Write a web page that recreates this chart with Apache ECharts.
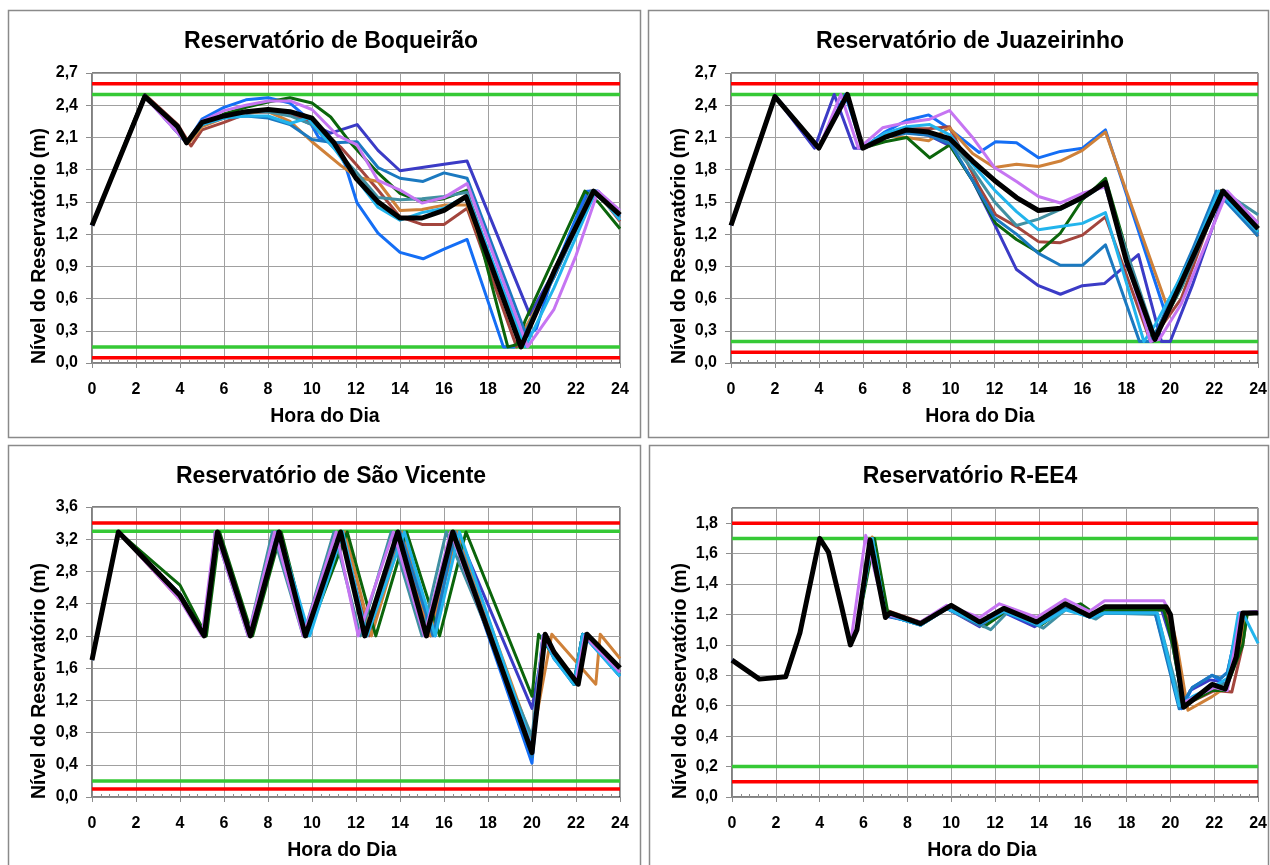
<!DOCTYPE html>
<html>
<head>
<meta charset="utf-8">
<script src="https://cdn.jsdelivr.net/npm/echarts@6/dist/echarts.min.js"></script>
<style>
  html, body { margin: 0; padding: 0; background: #ffffff; }
  #chart { width: 1270px; height: 865px; }
</style>
</head>
<body>
<div id="chart"></div>
<script>
// ---------- Reservoir levels (m) by hour of day: [hour, level] ----------

// Reservatório de Boqueirão
const boqIndigo = [[0,1.28],[2.4,2.49],[3.9,2.2],[4.3,2.05],[5,2.24],[6,2.3],[7,2.33],[8,2.34],[9,2.31],[10,2.22],[10.85,2.14],[12.05,2.22],[13,1.98],[14,1.79],[15,1.82],[16,1.85],[17.05,1.88],[19.9,0.45],[21,0.85],[22.6,1.6],[23,1.6],[24,1.38]];
const boqBlue   = [[0,1.28],[2.4,2.49],[4.3,2.05],[5,2.27],[6,2.38],[7,2.45],[8,2.47],[9,2.42],[9.8,2.28],[10.3,2.1],[11,2.05],[11.5,1.85],[12.05,1.49],[13,1.21],[14,1.03],[15.05,0.97],[16,1.06],[17.05,1.15],[18.7,0.15],[19.2,0.15],[20.2,0.32],[21,0.85],[22.5,1.6],[23,1.6],[24,1.35]];
const boqBrown  = [[0,1.28],[2.4,2.5],[3.9,2.22],[4.5,2.02],[5,2.17],[6,2.24],[7,2.32],[8,2.35],[9,2.33],[10,2.25],[11.3,2.01],[12,1.85],[13,1.61],[14,1.36],[15,1.29],[16,1.29],[17.05,1.44],[19.3,0.15],[21,0.8],[22.7,1.6],[23,1.58],[24,1.32]];
const boqOrange = [[0,1.28],[2.4,2.49],[4.4,2.05],[5,2.2],[6,2.28],[7,2.33],[8,2.34],[9,2.25],[10,2.06],[11.3,1.84],[12.05,1.73],[13,1.69],[14,1.42],[15,1.43],[16,1.47],[17.05,1.47],[19.4,0.22],[21,0.8],[22.8,1.6],[24,1.35]];
const boqGreen  = [[0,1.28],[2.4,2.5],[4.3,2.05],[5,2.22],[6,2.32],[7,2.38],[8,2.43],[9,2.47],[10,2.42],[10.85,2.29],[11.75,2.05],[13,1.77],[14,1.58],[15,1.5],[16,1.53],[17.05,1.61],[18.9,0.15],[19.3,0.17],[19.7,0.4],[22.4,1.6],[23,1.5],[24,1.25]];
const boqTeal   = [[0,1.28],[2.4,2.49],[4.3,2.05],[5,2.23],[6,2.3],[7,2.34],[8,2.34],[9,2.3],[10,2.22],[11,2.0],[12,1.78],[13,1.54],[14,1.52],[15,1.53],[16,1.55],[17.05,1.59],[19.5,0.2],[21,0.85],[22.7,1.6],[24,1.38]];
const boqSteel  = [[0,1.28],[2.4,2.49],[4.3,2.05],[5,2.22],[6,2.28],[7,2.3],[8,2.28],[9,2.22],[10,2.08],[11,2.05],[12.05,2.06],[13,1.82],[14,1.72],[15.05,1.69],[16,1.77],[17.05,1.72],[19.7,0.28],[21,0.8],[22.8,1.6],[24,1.36]];
const boqSky    = [[0,1.28],[2.4,2.49],[4.3,2.05],[5,2.22],[6,2.28],[7,2.3],[8,2.3],[9,2.23],[9.8,2.28],[11,2.0],[12,1.72],[13,1.45],[14,1.33],[15,1.4],[16,1.44],[17.05,1.56],[19.7,0.15],[21,0.7],[22.9,1.6],[24,1.33]];
const boqViolet = [[0,1.28],[2.4,2.48],[4.3,2.05],[5,2.25],[6,2.35],[7,2.4],[8,2.44],[9,2.44],[10,2.36],[11.15,2.12],[12.05,2.03],[13,1.7],[14,1.61],[15,1.49],[16,1.54],[17.05,1.67],[19.8,0.15],[21,0.5],[22,1.0],[23,1.6],[24,1.42]];
const boqMean   = [[0,1.28],[2.4,2.48],[3.9,2.2],[4.3,2.05],[5,2.24],[6,2.3],[7,2.34],[8,2.36],[9,2.34],[10,2.28],[11,2.05],[12,1.72],[13,1.5],[14,1.35],[15,1.35],[16,1.42],[17,1.55],[19.5,0.15],[21,0.85],[22.8,1.6],[24,1.38]];
const boqRedLimits   = [2.6, 0.05];
const boqGreenLimits = [2.5, 0.15];

// Reservatório de Juazeirinho
const juaIndigo = [[0,1.28],[2,2.48],[3.8,2.0],[4.7,2.5],[5.6,2.0],[6,2.0],[7,2.1],[8,2.15],[9,2.12],[10,2.02],[11,1.7],[12.05,1.27],[13,0.87],[14,0.72],[15,0.64],[16,0.72],[17,0.74],[18.55,1.01],[19.6,0.2],[20,0.2],[21,0.72],[22.5,1.6],[24,1.3]];
const juaBlue   = [[0,1.28],[2,2.49],[4,2.0],[5.2,2.5],[6,2.0],[7,2.15],[8,2.26],[9,2.31],[9.95,2.18],[11.3,1.96],[12.05,2.06],[13,2.05],[14,1.91],[15,1.97],[16,2.0],[17.05,2.17],[19.8,0.45],[21,1.0],[22.3,1.6],[24,1.2]];
const juaBrown  = [[0,1.28],[2,2.48],[4,2.0],[5.3,2.5],[6,2.0],[7,2.12],[8,2.18],[9,2.18],[9.95,2.2],[11.3,1.64],[12.05,1.38],[13,1.27],[14,1.13],[15,1.12],[16,1.19],[17.05,1.36],[19.1,0.2],[20.5,0.6],[22.3,1.6],[24,1.18]];
const juaOrange = [[0,1.28],[2,2.48],[4,2.0],[5.3,2.5],[6,2.0],[7,2.12],[8,2.1],[9,2.07],[9.95,2.19],[11,1.95],[12,1.82],[13,1.85],[14,1.83],[15,1.88],[16,1.98],[17.05,2.15],[19.9,0.5],[21,0.95],[22.3,1.6],[24,1.18]];
const juaGreen  = [[0,1.28],[2,2.48],[4,2.0],[5.3,2.5],[6,2.0],[7,2.06],[8,2.1],[9.05,1.91],[9.95,2.03],[11,1.7],[12.05,1.3],[13,1.15],[14,1.03],[15,1.21],[16,1.52],[17.05,1.72],[19.2,0.2],[20.5,0.7],[22.3,1.6],[24,1.22]];
const juaTeal   = [[0,1.28],[2,2.48],[4,2.0],[5.3,2.5],[6,2.0],[7,2.1],[8,2.15],[9,2.14],[10,2.06],[11,1.8],[12,1.5],[13,1.28],[14,1.34],[15,1.43],[16,1.53],[17,1.66],[19.3,0.25],[20.5,0.7],[22.4,1.6],[24,1.38]];
const juaSteel  = [[0,1.28],[2,2.48],[4,2.0],[5.3,2.5],[6,2.0],[7,2.1],[8,2.14],[9,2.12],[10,2.04],[11,1.7],[12,1.35],[13,1.2],[14,1.02],[15,0.91],[16,0.91],[17.05,1.1],[18.6,0.2],[19.1,0.2],[19.5,0.35],[21,1.05],[22.1,1.6],[24,1.18]];
const juaSky    = [[0,1.28],[2,2.48],[4,2.0],[5.3,2.5],[6,2.0],[7,2.14],[8,2.2],[9.05,2.22],[10,2.12],[11,1.85],[12,1.61],[13,1.41],[14,1.24],[15,1.27],[16,1.3],[17.05,1.4],[18.8,0.2],[19.3,0.35],[21,1.0],[22.2,1.6],[24,1.22]];
const juaViolet = [[0,1.28],[2,2.48],[4,2.0],[5,2.5],[5.8,2.0],[6,2.03],[6.9,2.19],[8,2.24],[9.05,2.27],[9.95,2.35],[11,2.1],[12,1.82],[13,1.69],[14,1.55],[15,1.49],[16,1.58],[17.05,1.64],[19.1,0.2],[19.5,0.22],[20.5,0.55],[22.6,1.6],[24,1.3]];
const juaMean   = [[0,1.28],[2,2.48],[4,2.0],[5.3,2.5],[6,2.0],[7,2.1],[8,2.17],[9,2.15],[9.95,2.09],[11,1.88],[12,1.7],[13,1.54],[14,1.42],[15,1.44],[16,1.54],[17.05,1.68],[18,0.95],[19.3,0.22],[20.5,0.75],[22.4,1.6],[24,1.25]];
const juaRedLimits   = [2.6, 0.1];
const juaGreenLimits = [2.5, 0.2];

// Reservatório de São Vicente
const svIndigo = [[0,1.7],[1.2,3.29],[4,2.5],[5.1,2.0],[5.7,3.29],[7.2,2.0],[8.5,3.29],[9.7,2.0],[11.4,3.29],[12.5,2.0],[14.0,3.29],[15.4,2.0],[16.6,3.29],[20,1.1],[20.6,2.0],[21,1.75],[21.9,1.4],[22.3,2.02],[24,1.55]];
const svBlue   = [[0,1.7],[1.2,3.29],[4,2.52],[5.1,2.0],[5.7,3.29],[7.2,2.0],[8.5,3.29],[9.7,2.0],[11.3,3.29],[12.4,2.0],[14.1,3.29],[15.6,2.0],[16.4,3.29],[20,0.42],[20.5,2.0],[21,1.72],[21.9,1.4],[22.3,2.02],[24,1.5]];
const svBrown  = [[0,1.7],[1.2,3.29],[4,2.45],[5.1,2.0],[5.7,3.29],[7.2,2.0],[8.5,3.29],[9.7,2.0],[11.3,3.29],[12.6,2.0],[14.0,3.29],[15.3,2.0],[16.5,3.29],[20,0.65],[20.6,2.02],[21,1.78],[22,1.42],[22.4,2.02],[24,1.55]];
const svOrange = [[0,1.7],[1.2,3.29],[4,2.48],[5.1,2.0],[5.7,3.29],[7.2,2.0],[8.5,3.29],[9.8,2.0],[11.5,3.29],[12.7,2.0],[14.1,3.29],[15.4,2.0],[16.6,3.29],[20,0.7],[20.9,2.02],[22.9,1.4],[23.1,2.02],[24,1.72]];
const svGreen  = [[0,1.7],[1.2,3.29],[4,2.63],[5.2,2.0],[5.8,3.29],[7.3,2.0],[8.6,3.29],[9.8,2.0],[11.6,3.29],[12.9,2.0],[14.3,3.29],[15.8,2.0],[17,3.29],[20,1.25],[20.3,2.02],[21,1.75],[21.9,1.4],[22.3,2.02],[24,1.55]];
const svTeal   = [[0,1.7],[1.2,3.29],[4,2.5],[5.1,2.0],[5.6,3.29],[7.1,2.0],[8.2,3.29],[9.6,2.0],[11.0,3.29],[12.2,2.0],[13.6,3.29],[15.0,2.0],[16.1,3.29],[20,0.75],[20.5,2.0],[21,1.75],[22,1.4],[22.4,2.0],[24,1.52]];
const svSteel  = [[0,1.7],[1.2,3.29],[4,2.5],[5.1,2.0],[5.7,3.29],[7.2,2.0],[8.4,3.29],[9.8,2.0],[11.3,3.29],[12.4,2.0],[14.0,3.29],[15.5,2.0],[16.5,3.29],[20,0.5],[20.5,2.0],[21,1.72],[22,1.4],[22.4,2.02],[24,1.5]];
const svSky    = [[0,1.7],[1.2,3.29],[4,2.5],[5.1,2.0],[5.7,3.29],[7.2,2.0],[8.5,3.29],[9.9,2.0],[11.4,3.29],[12.5,2.0],[14.2,3.29],[15.6,2.0],[16.7,3.29],[20,0.62],[20.5,2.0],[21,1.72],[21.9,1.4],[22.3,2.02],[24,1.5]];
const svViolet = [[0,1.7],[1.2,3.29],[4,2.45],[5.0,2.0],[5.6,3.29],[7.1,2.0],[8.3,3.29],[9.6,2.0],[11.1,3.29],[12.1,2.0],[13.7,3.29],[15.1,2.0],[16.3,3.29],[20,0.6],[20.5,2.0],[21,1.78],[22,1.45],[22.4,2.0],[24,1.55]];
const svMean   = [[0,1.7],[1.2,3.29],[4,2.5],[5.1,2.0],[5.7,3.29],[7.2,2.0],[8.5,3.29],[9.7,2.0],[11.3,3.29],[12.4,2.0],[13.9,3.29],[15.2,2.0],[16.4,3.29],[20,0.55],[20.6,2.02],[21,1.8],[22.1,1.4],[22.5,2.02],[24,1.6]];
const svRedLimits   = [3.4, 0.1];
const svGreenLimits = [3.3, 0.2];

// Reservatório R-EE4
const reIndigo = [[0,0.9],[1.25,0.775],[2.45,0.79],[3.1,1.08],[4,1.7],[4.4,1.61],[5,1.25],[5.4,1.0],[5.7,1.1],[6.3,1.69],[7,1.19],[8.6,1.14],[9.8,1.24],[11.3,1.12],[12.3,1.22],[13.8,1.12],[15.2,1.24],[16.4,1.18],[17,1.23],[19.6,1.23],[20.1,1.0],[20.6,0.6],[20.9,0.7],[21.8,0.77],[22.3,0.76],[22.6,0.73],[23.1,1.0],[23.3,1.21],[24,1.22]];
const reBlue   = [[0,0.9],[1.25,0.775],[2.45,0.79],[3.1,1.08],[4,1.7],[4.4,1.61],[5,1.25],[5.4,1.0],[5.7,1.1],[6.4,1.7],[7,1.2],[8.6,1.13],[9.8,1.25],[11.3,1.13],[12.3,1.22],[13.9,1.13],[15.2,1.25],[16.5,1.18],[17,1.22],[19.3,1.21],[20.5,0.58],[21,0.72],[21.9,0.8],[22.2,0.77],[22.6,0.82],[23.2,1.21],[24,1.21]];
const reBrown  = [[0,0.9],[1.25,0.775],[2.45,0.79],[3.1,1.08],[4,1.7],[4.4,1.61],[5,1.25],[5.4,1.0],[5.7,1.1],[6.3,1.7],[7,1.23],[8.6,1.15],[9.8,1.25],[11.3,1.15],[12.4,1.23],[13.9,1.15],[15.2,1.26],[16.4,1.2],[17,1.24],[19.8,1.24],[20.2,1.0],[20.7,0.6],[21,0.63],[22,0.7],[22.8,0.69],[23.3,1.0],[23.5,1.21],[24,1.21]];
const reOrange = [[0,0.9],[1.25,0.775],[2.45,0.79],[3.1,1.08],[4,1.7],[4.4,1.61],[5,1.25],[5.4,1.0],[5.7,1.1],[6.4,1.71],[7,1.22],[8.6,1.13],[9.8,1.24],[11.3,1.13],[12.6,1.24],[13.9,1.14],[15.2,1.25],[16.4,1.19],[17,1.24],[19.9,1.24],[20.3,1.0],[20.8,0.57],[21.9,0.66],[22.5,0.72],[23.2,1.0],[23.4,1.21],[24,1.21]];
const reGreen  = [[0,0.9],[1.25,0.775],[2.45,0.79],[3.1,1.08],[4,1.7],[4.4,1.61],[5,1.25],[5.4,1.0],[5.7,1.1],[6.5,1.7],[7.1,1.22],[8.6,1.14],[9.8,1.25],[11.5,1.12],[12.6,1.23],[14.1,1.13],[15.2,1.24],[15.9,1.27],[16.6,1.2],[17,1.23],[19.7,1.23],[20.1,1.0],[20.6,0.6],[21.9,0.7],[22.5,0.7],[23.3,1.0],[23.5,1.2],[24,1.21]];
const reTeal   = [[0,0.9],[1.25,0.775],[2.45,0.79],[3.1,1.08],[4,1.7],[4.4,1.61],[5,1.25],[5.4,1.0],[5.7,1.1],[6.4,1.7],[7,1.2],[8.6,1.13],[9.8,1.24],[11.8,1.1],[12.6,1.22],[14.2,1.11],[15.3,1.24],[16.6,1.17],[17,1.21],[19.4,1.2],[20.5,0.6],[21.9,0.72],[22.6,0.75],[23.2,1.21],[24,1.21]];
const reSteel  = [[0,0.9],[1.25,0.775],[2.45,0.79],[3.1,1.08],[4,1.7],[4.4,1.61],[5,1.25],[5.4,1.0],[5.7,1.1],[6.4,1.7],[7,1.2],[8.6,1.13],[9.8,1.24],[11.3,1.13],[12.4,1.22],[13.9,1.13],[15.2,1.24],[16.4,1.18],[17,1.21],[19.3,1.21],[20.4,0.58],[21,0.72],[21.9,0.8],[22.3,0.78],[22.6,0.82],[23.2,1.21],[24,1.21]];
const reSky    = [[0,0.9],[1.25,0.775],[2.45,0.79],[3.1,1.08],[4,1.7],[4.4,1.61],[5,1.25],[5.4,1.0],[5.7,1.1],[6.4,1.7],[7,1.2],[8.6,1.13],[9.8,1.24],[11.3,1.14],[12.4,1.22],[14,1.13],[15.2,1.23],[16.4,1.18],[17,1.21],[19.4,1.21],[20.4,0.6],[21,0.66],[22,0.73],[22.6,0.78],[23.1,1.21],[23.3,1.21],[24,1.01]];
const reViolet = [[0,0.9],[1.25,0.775],[2.45,0.79],[3.1,1.08],[4,1.7],[4.4,1.61],[5,1.25],[5.4,1.0],[6.1,1.72],[7,1.2],[8.6,1.15],[9.8,1.26],[11.3,1.18],[12.2,1.27],[13.9,1.18],[15.2,1.3],[16.3,1.22],[17,1.29],[19.7,1.29],[20,1.2],[20.6,0.62],[22,0.72],[22.6,0.7],[23.2,1.21],[24,1.22]];
const reMean   = [[0,0.9],[1.25,0.775],[2.45,0.79],[3.1,1.08],[4,1.7],[4.4,1.61],[5,1.25],[5.4,1.0],[5.7,1.1],[6.3,1.69],[7,1.18],[7.2,1.21],[8.6,1.14],[10,1.26],[11.3,1.15],[12.4,1.24],[13.9,1.15],[15.2,1.27],[16.3,1.19],[17,1.25],[19.8,1.25],[20,1.2],[20.6,0.59],[21.9,0.74],[22.5,0.71],[23,0.92],[23.3,1.21],[24,1.21]];
const reRedLimits   = [1.8, 0.1];
const reGreenLimits = [1.7, 0.2];

// ---------- Panel text ----------
const panelTitles = ['Reservatório de Boqueirão', 'Reservatório de Juazeirinho', 'Reservatório de São Vicente', 'Reservatório R-EE4'];
const xAxisTitle = 'Hora do Dia';
const yAxisTitle = 'Nível do Reservatório (m)';
const hourTicks = [0, 24, 2];            // min, max, step
const levelScales = [[0, 2.7, 0.3], [0, 2.7, 0.3], [0, 3.6, 0.4], [0, 1.9, 0.2]];

// ---------- Styling ----------
const lineColors = ['#3b3bc6', '#146ef5', '#a3453d', '#cf8139', '#0b650b', '#4190a2', '#1b79c0', '#22b4ec', '#c675f2'];
const meanColor = '#000000';
const redColor = '#ff0000';
const greenColor = '#36c936';
const gridColor = '#a0a0a0';
const FONT = '"Liberation Sans", Arial, Helvetica, sans-serif';

const panels = [
  { series: [boqIndigo, boqBlue, boqBrown, boqOrange, boqGreen, boqTeal, boqSteel, boqSky, boqViolet], mean: boqMean, red: boqRedLimits, green: boqGreenLimits },
  { series: [juaIndigo, juaBlue, juaBrown, juaOrange, juaGreen, juaTeal, juaSteel, juaSky, juaViolet], mean: juaMean, red: juaRedLimits, green: juaGreenLimits },
  { series: [svIndigo, svBlue, svBrown, svOrange, svGreen, svTeal, svSteel, svSky, svViolet], mean: svMean, red: svRedLimits, green: svGreenLimits },
  { series: [reIndigo, reBlue, reBrown, reOrange, reGreen, reTeal, reSteel, reSky, reViolet], mean: reMean, red: reRedLimits, green: reGreenLimits }
];

// Layout of the four panels (pixels)
const grids = [
  { left: 92,  top: 73,  width: 528, height: 290 },
  { left: 731, top: 73,  width: 529, height: 290 },
  { left: 92,  top: 507, width: 528, height: 290 },
  { left: 732, top: 508, width: 528, height: 289 }
];
const frames = [[8, 10, 632, 427], [648, 10, 620, 427], [8, 445, 632, 430], [649, 445, 619, 430]];
const titlePos = [[326, 37], [965, 37], [326, 472], [965, 472]];
const xNamePos = [[325, 417], [980, 417], [342, 851], [982, 851]];
const yNamePos = [[40, 246], [680, 246], [40, 681], [681, 681]];

const comma = v => String(Math.round(v * 10) / 10).replace('.', ',').replace(/^(\d+)$/, '$1,0');

const option = {
  backgroundColor: '#ffffff',
  animation: false,
  title: panelTitles.map((t, i) => ({
    text: t, left: titlePos[i][0], top: titlePos[i][1],
    textAlign: 'center', textVerticalAlign: 'middle',
    textStyle: { fontFamily: FONT, fontWeight: 'bold', fontSize: 23, color: '#000' }
  })),
  grid: grids.map(g => Object.assign({ show: true, borderColor: '#000', borderWidth: 1, backgroundColor: 'transparent' }, g)),
  xAxis: grids.map((g, i) => ({
    type: 'value', gridIndex: i, min: hourTicks[0], max: hourTicks[1], interval: hourTicks[2],
    axisLine: { show: true, lineStyle: { color: '#8c8c8c', width: 1 } },
    axisTick: { show: true, length: 5, lineStyle: { color: '#8c8c8c' } },
    minorTick: { show: true, splitNumber: 5, length: -3, lineStyle: { color: '#8c8c8c' } },
    splitLine: { show: true, lineStyle: { color: gridColor, width: 1 } },
    axisLabel: { margin: 19, fontFamily: FONT, fontWeight: 'bold', fontSize: 16, color: '#000' }
  })),
  yAxis: grids.map((g, i) => ({
    type: 'value', gridIndex: i, min: levelScales[i][0], max: levelScales[i][1], interval: levelScales[i][2],
    axisLine: { show: true, lineStyle: { color: '#8c8c8c', width: 1 } },
    axisTick: { show: true, length: 6, lineStyle: { color: '#8c8c8c' } },
    splitLine: { show: true, lineStyle: { color: gridColor, width: 1 } },
    axisLabel: {
      margin: 14, fontFamily: FONT, fontWeight: 'bold', fontSize: 16, color: '#000',
      showMaxLabel: i === 3 ? false : true,
      formatter: comma
    }
  })),
  graphic: [].concat(
    frames.map(f => ({
      type: 'rect', silent: true, z: -10,
      shape: { x: f[0] + 0.5, y: f[1] + 0.5, width: f[2], height: f[3] },
      style: { fill: 'none', stroke: '#8a8a8a', lineWidth: 1.5 }
    })),
    xNamePos.map(p => ({
      type: 'text', x: p[0], y: p[1], silent: true,
      style: { text: xAxisTitle, fontFamily: FONT, fontWeight: 'bold', fontSize: 19.5, fill: '#000', textAlign: 'center', textVerticalAlign: 'middle' }
    })),
    yNamePos.map(p => ({
      type: 'text', x: p[0], y: p[1], rotation: Math.PI / 2, silent: true,
      style: { text: yAxisTitle, fontFamily: FONT, fontWeight: 'bold', fontSize: 19.5, fill: '#000', textAlign: 'center', textVerticalAlign: 'middle' }
    }))
  ),
  series: []
};

panels.forEach((p, i) => {
  // limit lines (upper / lower)
  p.red.concat(p.green).forEach((lvl, k) => {
    option.series.push({
      type: 'line', xAxisIndex: i, yAxisIndex: i, z: 1,
      data: [[hourTicks[0], lvl], [hourTicks[1], lvl]],
      showSymbol: false, silent: true,
      lineStyle: { color: k < p.red.length ? redColor : greenColor, width: 3.5 }
    });
  });
  // simulated level curves
  p.series.forEach((d, k) => {
    option.series.push({
      type: 'line', xAxisIndex: i, yAxisIndex: i, z: 2,
      data: d, showSymbol: false, silent: true,
      lineStyle: { color: lineColors[k], width: 3, join: 'round' }
    });
  });
  // mean curve
  option.series.push({
    type: 'line', xAxisIndex: i, yAxisIndex: i, z: 3,
    data: p.mean, showSymbol: false, silent: true,
    lineStyle: { color: meanColor, width: 5, join: 'round' }
  });
});

const chart = echarts.init(document.getElementById('chart'), null, { renderer: 'canvas' });
chart.setOption(option);
</script>
</body>
</html>
